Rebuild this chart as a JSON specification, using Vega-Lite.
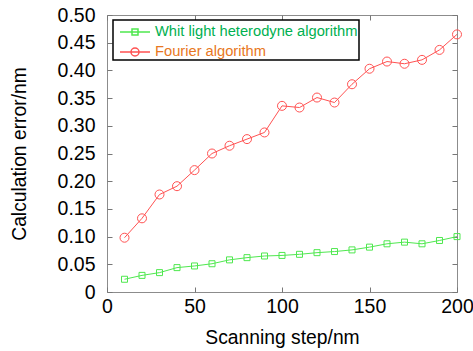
{
  "$schema": "https://vega.github.io/schema/vega-lite/v6.json",
  "width": 350,
  "height": 277,
  "autosize": {"type": "none"},
  "padding": {"left": 107, "top": 15, "right": 16, "bottom": 59},
  "background": "white",
  "config": {
    "view": {"stroke": "#8c8c8c", "strokeWidth": 1},
    "font": "Liberation Sans",
    "axis": {
      "labelFont": "Liberation Sans",
      "titleFont": "Liberation Sans",
      "labelFontSize": 19.5,
      "titleFontSize": 19.3,
      "titleFontWeight": "normal",
      "labelColor": "#000000",
      "titleColor": "#000000",
      "labelFlush": false,
      "labelOverlap": false,
      "domain": false,
      "grid": false,
      "tickColor": "#777777",
      "tickSize": -5,
      "tickWidth": 1
    }
  },
  "data": {
    "values": [
      {"series": "Whit light heterodyne algorithm", "step": 10, "error": 0.023},
      {"series": "Whit light heterodyne algorithm", "step": 20, "error": 0.030},
      {"series": "Whit light heterodyne algorithm", "step": 30, "error": 0.035},
      {"series": "Whit light heterodyne algorithm", "step": 40, "error": 0.044},
      {"series": "Whit light heterodyne algorithm", "step": 50, "error": 0.047},
      {"series": "Whit light heterodyne algorithm", "step": 60, "error": 0.051},
      {"series": "Whit light heterodyne algorithm", "step": 70, "error": 0.058},
      {"series": "Whit light heterodyne algorithm", "step": 80, "error": 0.062},
      {"series": "Whit light heterodyne algorithm", "step": 90, "error": 0.065},
      {"series": "Whit light heterodyne algorithm", "step": 100, "error": 0.066},
      {"series": "Whit light heterodyne algorithm", "step": 110, "error": 0.068},
      {"series": "Whit light heterodyne algorithm", "step": 120, "error": 0.071},
      {"series": "Whit light heterodyne algorithm", "step": 130, "error": 0.073},
      {"series": "Whit light heterodyne algorithm", "step": 140, "error": 0.076},
      {"series": "Whit light heterodyne algorithm", "step": 150, "error": 0.081},
      {"series": "Whit light heterodyne algorithm", "step": 160, "error": 0.087},
      {"series": "Whit light heterodyne algorithm", "step": 170, "error": 0.090},
      {"series": "Whit light heterodyne algorithm", "step": 180, "error": 0.087},
      {"series": "Whit light heterodyne algorithm", "step": 190, "error": 0.093},
      {"series": "Whit light heterodyne algorithm", "step": 200, "error": 0.100},
      {"series": "Fourier algorithm", "step": 10, "error": 0.098},
      {"series": "Fourier algorithm", "step": 20, "error": 0.133},
      {"series": "Fourier algorithm", "step": 30, "error": 0.176},
      {"series": "Fourier algorithm", "step": 40, "error": 0.191},
      {"series": "Fourier algorithm", "step": 50, "error": 0.220},
      {"series": "Fourier algorithm", "step": 60, "error": 0.250},
      {"series": "Fourier algorithm", "step": 70, "error": 0.264},
      {"series": "Fourier algorithm", "step": 80, "error": 0.276},
      {"series": "Fourier algorithm", "step": 90, "error": 0.288},
      {"series": "Fourier algorithm", "step": 100, "error": 0.336},
      {"series": "Fourier algorithm", "step": 110, "error": 0.333},
      {"series": "Fourier algorithm", "step": 120, "error": 0.351},
      {"series": "Fourier algorithm", "step": 130, "error": 0.342},
      {"series": "Fourier algorithm", "step": 140, "error": 0.375},
      {"series": "Fourier algorithm", "step": 150, "error": 0.403},
      {"series": "Fourier algorithm", "step": 160, "error": 0.416},
      {"series": "Fourier algorithm", "step": 170, "error": 0.412},
      {"series": "Fourier algorithm", "step": 180, "error": 0.419},
      {"series": "Fourier algorithm", "step": 190, "error": 0.437},
      {"series": "Fourier algorithm", "step": 200, "error": 0.465}
    ]
  },
  "resolve": {"axis": {"x": "independent", "y": "independent"}},
  "layer": [
    {
      "mark": {"type": "line", "strokeWidth": 1},
      "encoding": {
        "x": {
          "field": "step", "type": "quantitative",
          "scale": {"domain": [0, 200], "nice": false, "zero": false},
          "axis": {"values": [0, 50, 100, 150, 200], "title": "Scanning step/nm", "labelPadding": 10.5, "titlePadding": 12}
        },
        "y": {
          "field": "error", "type": "quantitative",
          "scale": {"domain": [0, 0.5], "nice": false, "zero": false},
          "axis": {
            "values": [0, 0.05, 0.1, 0.15, 0.2, 0.25, 0.3, 0.35, 0.4, 0.45, 0.5],
            "labelExpr": "datum.value == 0 ? '0' : format(datum.value, '.2f')",
            "title": "Calculation error/nm", "labelPadding": 17, "titlePadding": 28
          }
        },
        "color": {
          "field": "series", "type": "nominal",
          "scale": {"domain": ["Whit light heterodyne algorithm", "Fourier algorithm"], "range": ["#4fe84f", "#ff5252"]},
          "legend": {
            "title": null,
            "orient": "none",
            "legendX": 6,
            "legendY": 5,
            "strokeColor": "#000000",
            "fillColor": "#ffffff",
            "padding": 1,
            "cornerRadius": 0,
            "symbolSize": 400,
            "symbolOffset": 10,
            "symbolStrokeWidth": 1.5,
            "symbolFillColor": "transparent",
            "symbolOpacity": 1,
            "symbolType": {"expr": "datum.value === 'Fourier algorithm' ? 'M-1.5,0H1.5M0.4,0A0.4,0.4 0 1,1 -0.4,0A0.4,0.4 0 1,1 0.4,0' : 'M-1.5,0H1.5M-0.3,-0.3H0.3V0.3H-0.3Z'"},
            "symbolStrokeColor": {"expr": "datum.value === 'Fourier algorithm' ? '#E87722' : '#00B050'"},
            "labelOffset": 9,
            "rowPadding": 2,
            "labelFont": "Liberation Sans",
            "labelFontSize": 14.7,
            "labelLimit": 400,
            "encoding": {
              "symbols": {
                "stroke": {"condition": {"test": "datum.value === 'Fourier algorithm'", "value": "#E87722"}, "value": "#00B050"}
              },
              "labels": {
                "fill": {"condition": {"test": "datum.value === 'Fourier algorithm'", "value": "#E87722"}, "value": "#00B050"}
              },
              "legend": {
                "strokeWidth": {"value": 1.5}
              }
            }
          }
        }
      }
    },
    {
      "transform": [{"filter": "datum.series === 'Whit light heterodyne algorithm'"}],
      "mark": {"type": "point", "shape": "square", "filled": false, "strokeWidth": 1, "opacity": 1, "color": "#4fe84f", "size": 36},
      "encoding": {
        "x": {"field": "step", "type": "quantitative", "scale": {"domain": [0, 200], "nice": false, "zero": false}, "axis": {"orient": "top", "labels": false, "title": null, "values": [0, 50, 100, 150, 200]}},
        "y": {"field": "error", "type": "quantitative", "scale": {"domain": [0, 0.5], "nice": false, "zero": false}, "axis": {"orient": "right", "labels": false, "title": null, "values": [0, 0.05, 0.1, 0.15, 0.2, 0.25, 0.3, 0.35, 0.4, 0.45, 0.5]}}
      }
    },
    {
      "transform": [{"filter": "datum.series === 'Fourier algorithm'"}],
      "mark": {"type": "point", "shape": "circle", "filled": false, "strokeWidth": 1, "opacity": 1, "color": "#ff5252", "size": 81},
      "encoding": {
        "x": {"field": "step", "type": "quantitative", "scale": {"domain": [0, 200], "nice": false, "zero": false}, "axis": null},
        "y": {"field": "error", "type": "quantitative", "scale": {"domain": [0, 0.5], "nice": false, "zero": false}, "axis": null}
      }
    }
  ]
}
